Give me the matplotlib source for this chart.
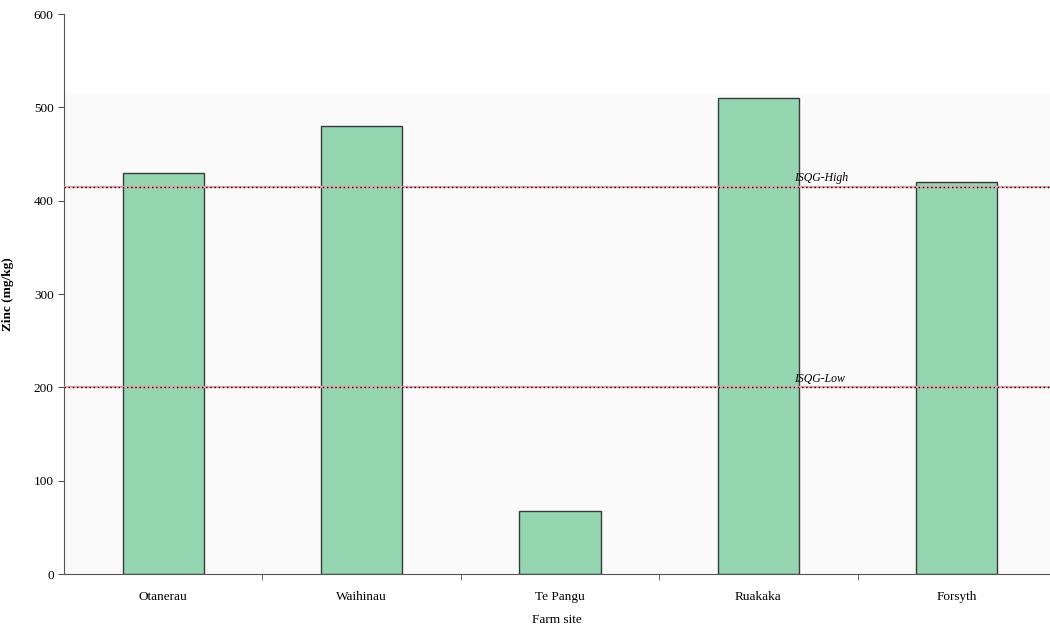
import numpy as np
import matplotlib
matplotlib.use("Agg")
import matplotlib.pyplot as plt

plt.rcParams['font.family'] = ['Liberation Serif', 'DejaVu Serif']

sites = ["Otanerau", "Waihinau", "Te Pangu", "Ruakaka", "Forsyth"]
zinc = [430, 480, 68, 510, 420]
isqg_high = 415
isqg_low = 200

fig = plt.figure(figsize=(10.5, 6.27), dpi=100)
ax = fig.add_axes([0.061, 0.0845, 0.939, 0.893])

x = np.arange(len(sites))
# faint grey scan background
ax.axhspan(0, 515, color="#fafafa", zorder=0)
ax.bar(x, zinc, width=0.41, color="#93d6b0", edgecolor="#3a3a3a", linewidth=1.0, zorder=2)

for val in (isqg_high, isqg_low):
    ax.axhline(val, color="#e8a3ad", linewidth=1.6, zorder=3)
    ax.axhline(val, color="black", linestyle=(0, (1, 2)), linewidth=1.0, zorder=4)

ax.text(3.18, isqg_high + 6, "ISQG-High", fontsize=8.5, style="italic", zorder=5)
ax.text(3.18, isqg_low + 6, "ISQG-Low", fontsize=8.5, style="italic", zorder=5)

ax.set_xlim(-0.5, 4.47)
ax.set_ylim(0, 600)
ax.set_yticks(range(0, 601, 100))
ax.set_xticks(x)
ax.set_xticklabels(sites, fontsize=9.5)
ax.set_xticks(np.arange(0.5, 4.5, 1), minor=True)
ax.tick_params(axis="x", which="major", length=0, pad=12)
ax.tick_params(axis="x", which="minor", length=4, direction="out", color="#555555")
ax.tick_params(axis="y", labelsize=9.5, length=4, color="#555555")

ax.set_xlabel("Farm site", fontsize=9.5, labelpad=8)
ax.set_ylabel("Zinc (mg/kg)", fontsize=9.5, fontweight="bold", labelpad=14)

for s in ("top", "right"):
    ax.spines[s].set_visible(False)
ax.spines["left"].set_color("#555555")
ax.spines["bottom"].set_color("#555555")
ax.set_facecolor("white")

fig.savefig("out.png", dpi=100)
